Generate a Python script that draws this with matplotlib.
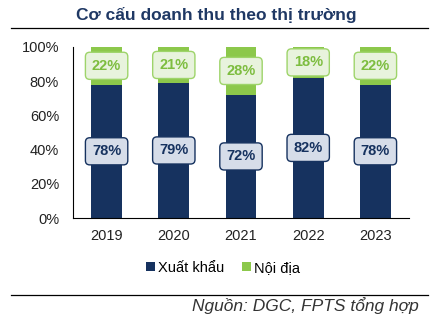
import matplotlib
matplotlib.use("Agg")
import matplotlib.pyplot as plt
from matplotlib.lines import Line2D

plt.rcParams['font.family'] = ['Liberation Sans', 'DejaVu Sans']

years = ['2019', '2020', '2021', '2022', '2023']
xuat_khau = [78, 79, 72, 82, 78]
noi_dia = [22, 21, 28, 18, 22]

navy = '#16325f'
green = '#8cc84b'

fig = plt.figure(figsize=(4.38, 3.23), dpi=100)
ax = fig.add_axes([73/438, 1 - 218/323, 336/438, 171/323])

x = range(len(years))
w = 0.46
ax.bar(x, xuat_khau, w, color=navy, label='Xuất khẩu')
ax.bar(x, noi_dia, w, bottom=xuat_khau, color=green, label='Nội địa')

# nhãn giá trị trong hộp bo góc
for i in x:
    ax.text(i, xuat_khau[i] / 2, f'{xuat_khau[i]}%', ha='center', va='center',
            fontsize=10.5, fontweight='bold', color=navy,
            bbox=dict(boxstyle='round,pad=0.45,rounding_size=0.3',
                      fc='#d6dde9', ec=navy, lw=1))
    ax.text(i, xuat_khau[i] + noi_dia[i] / 2, f'{noi_dia[i]}%', ha='center', va='center',
            fontsize=10.5, fontweight='bold', color='#7dbd3f',
            bbox=dict(boxstyle='round,pad=0.45,rounding_size=0.3',
                      fc='#e8f3dd', ec='#9ed46a', lw=1))

ax.set_xlim(-0.5, 4.5)
ax.set_ylim(0, 100)
ax.set_yticks([0, 20, 40, 60, 80, 100])
ax.set_yticklabels([f'{v}%' for v in [0, 20, 40, 60, 80, 100]])
ax.set_xticks(list(x))
ax.set_xticklabels(years)
ax.tick_params(length=0, labelsize=10.5, colors='#222222')
ax.tick_params(axis='y', pad=10)
ax.tick_params(axis='x', pad=8)
ax.spines['top'].set_visible(False)
ax.spines['right'].set_visible(False)
ax.spines['left'].set_color('black')
ax.spines['bottom'].set_color('black')

fig.text(216/438, 1 - 15/323, 'Cơ cấu doanh thu theo thị trường', ha='center', va='center',
         fontsize=12.5, fontweight='bold', color='#1f3864')
fig.add_artist(Line2D([11/438, 428/438], [1 - 28/323] * 2, color='black', lw=0.9))
fig.add_artist(Line2D([11/438, 428/438], [1 - 295/323] * 2, color='black', lw=0.9))

fig.legend(loc='center', bbox_to_anchor=(223/438, 1 - 268/323), ncol=2, frameon=False,
           fontsize=10.5, handlelength=0.6, handleheight=0.6, handletextpad=0.2,
           columnspacing=1.2)

fig.text(419/438, 1 - 306/323, 'Nguồn: DGC, FPTS tổng hợp', ha='right', va='center',
         fontsize=12.5, style='italic', color='#333333')

fig.savefig('out.png', dpi=100)
